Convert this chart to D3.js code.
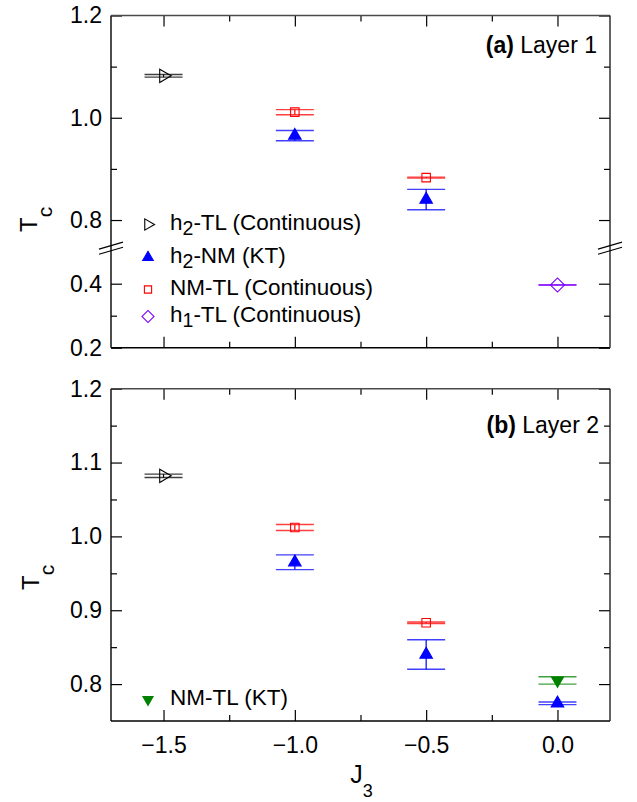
<!DOCTYPE html>
<html>
<head>
<meta charset="utf-8">
<script src="https://cdn.jsdelivr.net/npm/d3@7/dist/d3.min.js"></script>
<style>
  body { margin: 0; background: #fff; }
  svg { display: block; font-family: "Liberation Sans", Arial, sans-serif; }
</style>
</head>
<body>
<div id="chart"></div>
<script>
// ---- data: [J3, Tc, error] ----
const h2TL_L1 = [[-1.5, 1.082, 0.0025]];
const h2NM_L1 = [[-1.0, 0.965, 0.010], [-0.5, 0.840, 0.020]];
const nmTL_L1 = [[-1.0, 1.011, 0.005], [-0.5, 0.883, 0.001]];
const h1TL_L1 = [[0.0, 0.396, 0.001]];

const h2TL_L2 = [[-1.5, 1.082, 0.0023]];
const h2NM_L2 = [[-1.0, 0.965, 0.010], [-0.5, 0.840, 0.020], [0.0, 0.774, 0.0018]];
const nmTL_L2 = [[-1.0, 1.012, 0.004], [-0.5, 0.883, 0.001]];
const nmTLKT_L2 = [[0.0, 0.805, 0.005]];

// ticks
const xMajor = [-1.5, -1.0, -0.5, 0.0];
const xMinor = [-1.25, -0.75, -0.25];
const yTopHiMajor = [0.8, 1.0, 1.2], yTopHiMinor = [0.9, 1.1];
const yTopLoMajor = [0.2, 0.4], yTopLoMinor = [0.3];
const yBotMajor = [0.8, 0.9, 1.0, 1.1, 1.2], yBotMinor = [0.85, 0.95, 1.05, 1.15];

// series styles
const styles = {
    h2TL:   { label: "h_2-TL (Continuous)", color: "#000000", symbol: d3.symbolTriangle, size: 76, rotate: 90, filled: false },
    h2NM:   { label: "h_2-NM (KT)", color: "#0000ff", symbol: d3.symbolTriangle, size: 68, rotate: 0, filled: true },
    nmTL:   { label: "NM-TL (Continuous)", color: "#ff0000", symbol: d3.symbolSquare, size: 72, rotate: 0, filled: false },
    h1TL:   { label: "h_1-TL (Continuous)", color: "#8000ff", symbol: d3.symbolSquare, size: 100, rotate: 45, filled: false },
    nmTLKT: { label: "NM-TL (KT)", color: "#008000", symbol: d3.symbolTriangle, size: 62, rotate: 180, filled: true }
};

const width = 637, height = 802;
const svg = d3.select("#chart").append("svg")
    .attr("width", width)
    .attr("height", height);

const x = d3.scaleLinear().domain([-1.7, 0.2]).range([111, 610]);
const capHalf = 19;

// top panel has a broken y axis
const yTopHi = d3.scaleLinear().domain([0.75, 1.2]).range([245.6, 15.5]);
const yTopLo = d3.scaleLinear().domain([0.2, 0.5]).range([347.7, 251.7]);
const yTop = v => v > 0.6 ? yTopHi(v) : yTopLo(v);
const yBot = d3.scaleLinear().domain([0.75, 1.2]).range([721, 388.7]);

const fmt = d3.format(".1f");
const tickFont = 23;

function styleAxis(g) {
    g.select(".domain").remove();
    g.selectAll(".tick line").attr("stroke", "#000").attr("stroke-width", 1.2);
    g.selectAll(".tick text").attr("font-size", tickFont).attr("fill", "#000")
        .attr("font-family", "Liberation Sans, Arial, sans-serif");
}

function xTicks(yPos, top, labels) {
    const mk = (vals, len, lab) => {
        const ax = top ? d3.axisTop(x) : d3.axisBottom(x);
        ax.tickValues(vals).tickSize(-len).tickPadding(15.5)
            .tickFormat(lab ? fmt : "");
        svg.append("g").attr("transform", `translate(0,${yPos})`).call(ax).call(styleAxis);
    };
    mk(xMajor, 11, labels);
    mk(xMinor, 6, false);
}

function yTicks(scale, major, minor, labels) {
    const l = (vals, len, lab) => {
        svg.append("g").attr("transform", "translate(111,0)")
            .call(d3.axisLeft(scale).tickValues(vals).tickSize(-len).tickPadding(9).tickFormat(lab ? fmt : ""))
            .call(styleAxis);
        svg.append("g").attr("transform", "translate(610,0)")
            .call(d3.axisRight(scale).tickValues(vals).tickSize(-len).tickFormat(""))
            .call(styleAxis);
    };
    l(major, 11, labels);
    l(minor, 6, false);
}

function frame(top, bottom) {
    const f = svg.append("g").attr("fill", "none").attr("stroke-width", 1.4);
    f.append("line").attr("x1", 111).attr("x2", 111).attr("y1", top).attr("y2", bottom).attr("stroke", "#000");
    f.append("line").attr("x1", 111).attr("x2", 610).attr("y1", bottom).attr("y2", bottom).attr("stroke", "#000");
    f.append("line").attr("x1", 111).attr("x2", 610).attr("y1", top).attr("y2", top).attr("stroke", "#4a4a4a");
    f.append("line").attr("x1", 610).attr("x2", 610).attr("y1", top).attr("y2", bottom).attr("stroke", "#222");
}

function drawSeries(yFn, list) {
    list.forEach(([key, rows]) => {
        const s = styles[key];
        const pts = rows.map(([j, tc, err]) => ({ j, tc, err }));
        const g = svg.append("g").attr("stroke", s.color).attr("fill", "none");

        g.selectAll("line.cap")
            .data(pts.flatMap(p => [{ p, v: p.tc + p.err }, { p, v: p.tc - p.err }]))
            .join("line")
            .attr("x1", d => x(d.p.j) - capHalf)
            .attr("x2", d => x(d.p.j) + capHalf)
            .attr("y1", d => yFn(d.v))
            .attr("y2", d => yFn(d.v))
            .attr("stroke-width", 1.4)
            .attr("stroke-opacity", 0.75);

        g.selectAll("line.bar")
            .data(pts)
            .join("line")
            .attr("x1", d => x(d.j))
            .attr("x2", d => x(d.j))
            .attr("y1", d => yFn(d.tc + d.err))
            .attr("y2", d => yFn(d.tc - d.err))
            .attr("stroke-width", 1.2);

        g.selectAll("path")
            .data(pts)
            .join("path")
            .attr("d", d3.symbol(s.symbol, s.size))
            .attr("transform", d => `translate(${x(d.j)},${yFn(d.tc)}) rotate(${s.rotate})`)
            .attr("fill", s.filled ? s.color : "none")
            .attr("stroke-width", 1.1);
    });
}

// text with "_x" subscripts
function richText(sel, label, fontSize, subSize, subShift) {
    const parts = label.split(/_(\w)/);
    parts.forEach((p, i) => {
        if (!p) return;
        const t = sel.append("tspan").text(p);
        if (i % 2 === 1) {
            t.attr("font-size", subSize).attr("dy", subShift);
        } else {
            t.attr("font-size", fontSize);
            if (i > 0) t.attr("dy", -subShift);
        }
    });
}

function legend(keys, rowOffsets, baseline) {
    keys.forEach((key, i) => {
        const s = styles[key];
        const yb = baseline + rowOffsets[i];
        svg.append("path")
            .attr("d", d3.symbol(s.symbol, s.size * 0.72))
            .attr("transform", `translate(148,${yb - 5.5}) rotate(${s.rotate})`)
            .attr("fill", s.filled ? s.color : "none")
            .attr("stroke", s.color)
            .attr("stroke-width", 1.1);
        const t = svg.append("text").attr("x", 170).attr("y", yb).attr("fill", "#000");
        richText(t, s.label, 22.5, 19.5, 5);
    });
}

function panelLabel(letter, name, xr, yb) {
    const t = svg.append("text").attr("x", xr).attr("y", yb)
        .attr("text-anchor", "end").attr("font-size", 23).attr("fill", "#000");
    t.append("tspan").attr("font-weight", "bold").text(`(${letter})`);
    t.append("tspan").text(` ${name}`);
}

function yTitle(xb, yStart) {
    const t = svg.append("text")
        .attr("transform", `translate(${xb},${yStart}) rotate(-90)`)
        .attr("fill", "#000");
    t.append("tspan").attr("font-size", 24).text("T");
    t.append("tspan").attr("font-size", 21).attr("dy", 15).text("c");
}

// ---- panel (a): Layer 1 ----
xTicks(15.5, true, false);
xTicks(347.7, false, false);
yTicks(yTopHi, yTopHiMajor, yTopHiMinor, true);
yTicks(yTopLo, yTopLoMajor, yTopLoMinor, true);
frame(15.5, 347.7);

// axis break marks
const yBreak = (yTopHi(0.75) + yTopLo(0.5)) / 2 - 0.5;
[111, 610].forEach(xa => {
    [-2.6, 2.6].forEach(off => {
        svg.append("line")
            .attr("x1", xa - 12).attr("y1", yBreak + 3.5 + off)
            .attr("x2", xa + 12).attr("y2", yBreak - 3.5 + off)
            .attr("stroke", "#000").attr("stroke-width", 1.2);
    });
});

drawSeries(yTop, [["h2TL", h2TL_L1], ["h2NM", h2NM_L1], ["nmTL", nmTL_L1], ["h1TL", h1TL_L1]]);
legend(["h2TL", "h2NM", "nmTL", "h1TL"], [0, 33, 65, 92], 230);
panelLabel("a", "Layer 1", 597, 53);
yTitle(37, 232);

// ---- panel (b): Layer 2 ----
xTicks(388.7, true, false);
xTicks(721, false, true);
yTicks(yBot, yBotMajor, yBotMinor, true);
frame(388.7, 721);

drawSeries(yBot, [["h2TL", h2TL_L2], ["h2NM", h2NM_L2], ["nmTL", nmTL_L2], ["nmTLKT", nmTLKT_L2]]);
legend(["nmTLKT"], [0], 705);
panelLabel("b", "Layer 2", 599, 433);
yTitle(39, 590);

// x axis title
const xt = svg.append("text")
    .attr("x", (x.range()[0] + x.range()[1]) / 2 + 1)
    .attr("y", 783)
    .attr("text-anchor", "middle")
    .attr("fill", "#000");
richText(xt, "J_3", 25, 18, 14);
</script>
</body>
</html>
